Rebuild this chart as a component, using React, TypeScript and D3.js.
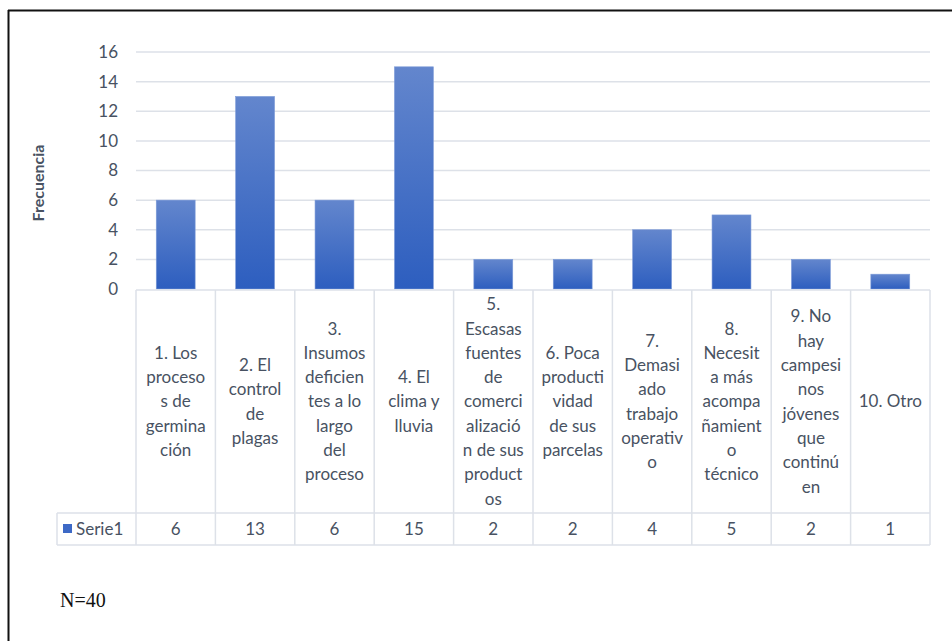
import React from "react";
import * as d3 from "d3";

const categories: string[][] = [
  ["1. Los", "proceso", "s de", "germina", "ción"],
  ["2. El", "control", "de", "plagas"],
  ["3.", "Insumos", "deficien", "tes a lo", "largo", "del", "proceso"],
  ["4. El", "clima y", "lluvia"],
  ["5.", "Escasas", "fuentes", "de", "comerci", "alizació", "n de sus", "product", "os"],
  ["6. Poca", "producti", "vidad", "de sus", "parcelas"],
  ["7.", "Demasi", "ado", "trabajo", "operativ", "o"],
  ["8.", "Necesit", "a más", "acompa", "ñamient", "o", "técnico"],
  ["9. No", "hay", "campesi", "nos", "jóvenes", "que", "continú", "en"],
  ["10. Otro"],
];
const values: number[] = [6, 13, 6, 15, 2, 2, 4, 5, 2, 1];
const yTicks: number[] = [0, 2, 4, 6, 8, 10, 12, 14, 16];
const seriesName = "Serie1";
const yTitle = "Frecuencia";
const note = "N=40";

const FONT = "Lato, 'Open Sans', sans-serif";
const TXT = "#485262";
const GRID = "#dde1e8";

export default function App() {
  const left = 136, right = 930;
  const x = d3.scaleBand<number>().domain(values.map((_, i) => i)).range([left, right]).padding(0);
  const y = d3.scaleLinear().domain([0, 16]).range([289, 52]);
  const bw = x.bandwidth() * 0.49;
  const tableTop = 290, labelBottom = 513, tableBottom = 545, legendLeft = 57;
  const labelMid = (tableTop + labelBottom) / 2;
  const lh = 24.3;
  return (
    <svg width={952} height={641} style={{ position: "absolute", left: 0, top: 0, background: "#fff" }}>
      <defs>
        <linearGradient id="barGrad" x1="0" y1="0" x2="0" y2="1">
          <stop offset="0%" stopColor="#6386cd" />
          <stop offset="100%" stopColor="#2d5ebf" />
        </linearGradient>
      </defs>
      <line x1={8} y1={10.5} x2={952} y2={10.5} stroke="#111" strokeWidth={2} />
      <line x1={8.5} y1={10} x2={8.5} y2={641} stroke="#111" strokeWidth={2} />
      {yTicks.filter((t) => t > 0).map((t) => (
        <line key={t} x1={left} x2={right} y1={y(t)} y2={y(t)} stroke={GRID} strokeWidth={1.5} />
      ))}
      {yTicks.map((t) => (
        <text key={t} x={118} y={y(t)} dy="0.35em" textAnchor="end" fontFamily={FONT} fontSize={17} fill={TXT}>
          {t}
        </text>
      ))}
      <text
        transform={`translate(44,183) rotate(-90)`}
        textAnchor="middle"
        fontFamily={FONT}
        fontSize={16}
        fontWeight="bold"
        fill={TXT}
      >
        {yTitle}
      </text>
      {values.map((v, i) => (
        <rect
          key={i}
          x={(x(i) as number) + (x.bandwidth() - bw) / 2}
          y={y(v)}
          width={bw}
          height={y(0) - y(v)}
          fill="url(#barGrad)"
          stroke="#7c9bd8"
          strokeWidth={0.6}
        />
      ))}
      <g stroke={GRID} strokeWidth={1.5} fill="none">
        <line x1={left} x2={right} y1={tableTop} y2={tableTop} />
        <line x1={legendLeft} x2={right} y1={labelBottom} y2={labelBottom} />
        <line x1={legendLeft} x2={right} y1={tableBottom} y2={tableBottom} />
        <line x1={legendLeft} x2={legendLeft} y1={labelBottom} y2={tableBottom} />
        {values.map((_, i) => (
          <line key={i} x1={x(i) as number} x2={x(i) as number} y1={tableTop} y2={tableBottom} />
        ))}
        <line x1={right} x2={right} y1={tableTop} y2={tableBottom} />
      </g>
      {categories.map((lines, i) => {
        const cx = (x(i) as number) + x.bandwidth() / 2;
        const start = labelMid - ((lines.length - 1) * lh) / 2;
        return (
          <text key={i} textAnchor="middle" fontFamily={FONT} fontSize={17} fill={TXT}>
            {lines.map((ln, j) => (
              <tspan key={j} x={cx} y={start + j * lh} dy="0.35em">
                {ln}
              </tspan>
            ))}
          </text>
        );
      })}
      {values.map((v, i) => (
        <text
          key={i}
          x={(x(i) as number) + x.bandwidth() / 2}
          y={(labelBottom + tableBottom) / 2}
          dy="0.35em"
          textAnchor="middle"
          fontFamily={FONT}
          fontSize={17}
          fill={TXT}
        >
          {v}
        </text>
      ))}
      <rect x={63} y={524} width={9} height={9} fill="#3d69c6" />
      <text x={76} y={529} dy="0.35em" fontFamily={FONT} fontSize={17} fill={TXT}>
        {seriesName}
      </text>
      <text x={60} y={607} fontFamily="'Liberation Serif', 'Times New Roman', serif" fontSize={20} fill="#111">
        {note}
      </text>
    </svg>
  );
}
